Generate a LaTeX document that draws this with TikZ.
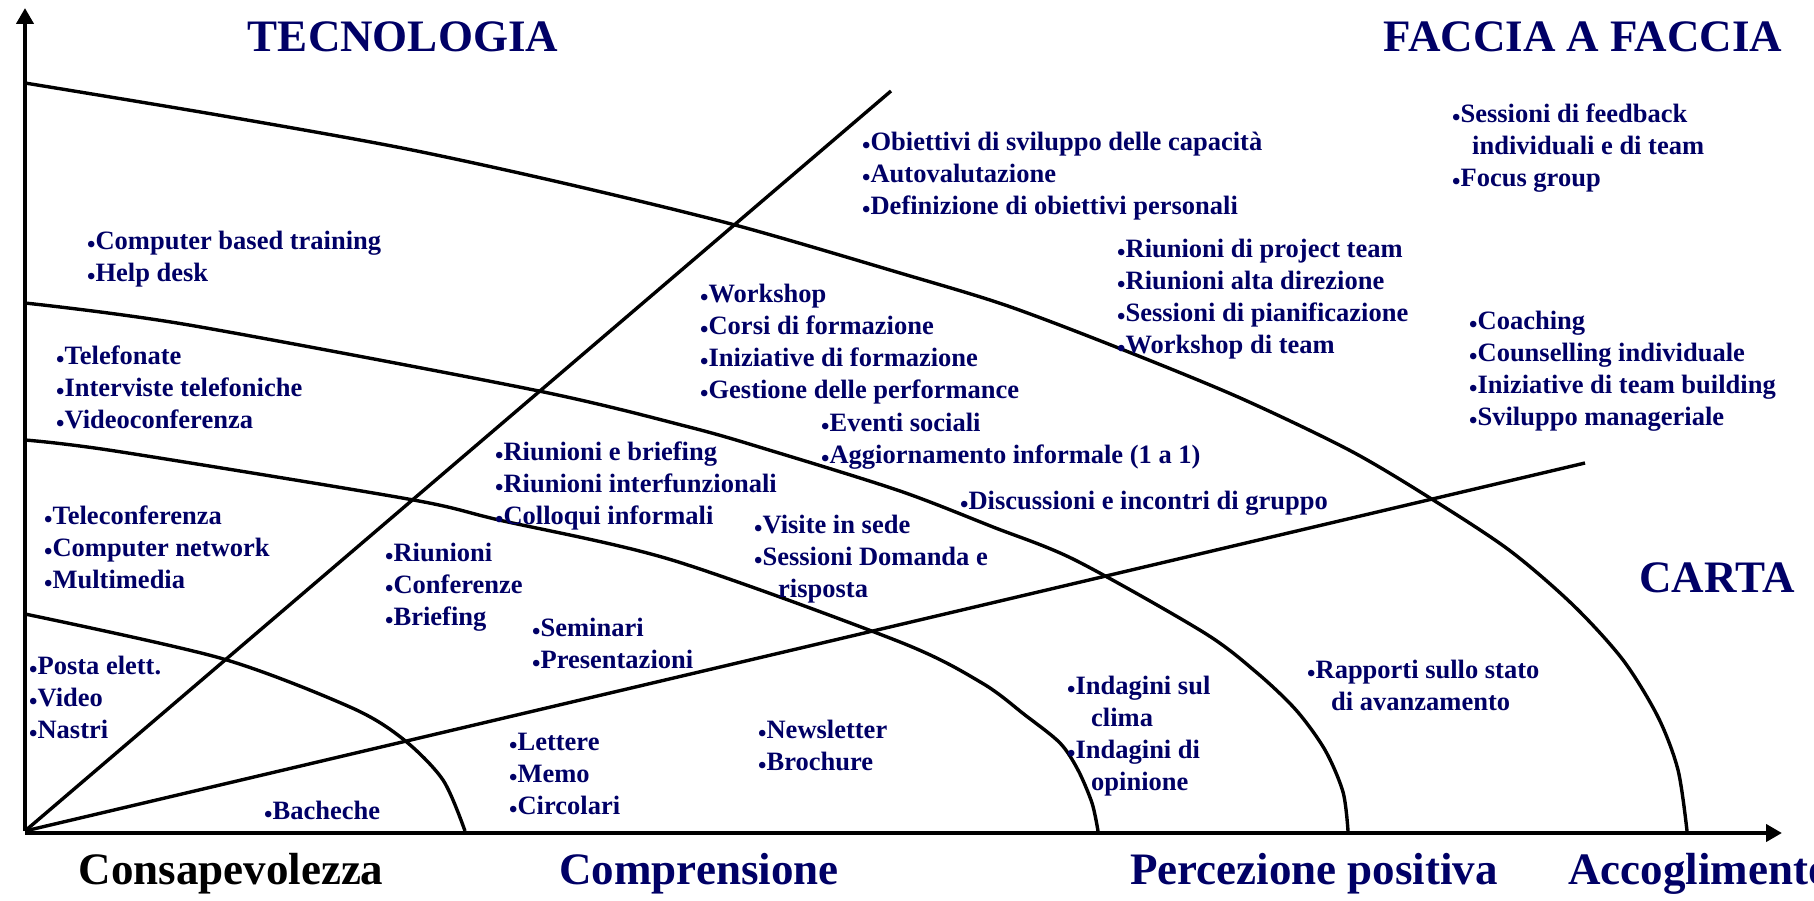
\documentclass[tikz,border=0pt]{standalone}
\usepackage{fontspec}
\setmainfont{Liberation Serif}
\usepackage{tikz}
\usetikzlibrary{arrows.meta,positioning}
\definecolor{txtblue}{HTML}{000066}
\newcommand\bul{\raisebox{-2.5pt}{\fontsize{24}{24}\selectfont •}}
\newcommand\ind{\hspace*{24pt}}

\begin{document}
\begin{tikzpicture}[x=1pt,y=-1pt,
  lbl/.style={font=\fontsize{26.5}{32}\selectfont\bfseries,text=txtblue,align=left,anchor=north west,inner sep=0pt,yshift=-5pt,execute at begin node={\strut}},
  big/.style={font=\fontsize{45}{50}\selectfont\bfseries,text=txtblue,inner sep=0pt},
  band/.style={line width=3.4pt},
  axis/.style={line width=4.4pt,-{Triangle[length=16pt,width=17pt]}}]
\useasboundingbox[fill=white] (0,0) rectangle (1814,901);
\coordinate (o) at (25,831);
\coordinate (ytip) at (25,8);
\coordinate (xstart) at (25,833);
\coordinate (xtip) at (1782,833);
\coordinate (steep) at (891,91);
\coordinate (flat) at (1585,463);
\draw[band] (o)--(steep);
\draw[band] (o)--(flat);
\draw[band] plot[smooth,tension=0.5] coordinates {(25,614) (220,658) (350,707) (403,739) (443,780) (465,831)};
\draw[band] plot[smooth,tension=0.5] coordinates {(25,440) (115,451) (408,499) (499,520) (672,560) (900,642) (982,683) (1025,715) (1060,743) (1078,770) (1092,803) (1098,831)};
\draw[band] plot[smooth,tension=0.5] coordinates {(25,303) (189,325) (534,390) (689,427) (769,450) (900,491) (993,527) (1075,560) (1203,632) (1256,672) (1296,710) (1325,750) (1343,792) (1348,831)};
\draw[band] plot[smooth,tension=0.5] coordinates {(25,83) (218,115) (402,148) (563,183) (735,225) (900,273) (1005,305) (1116,347) (1238,397) (1349,450) (1430,498) (1509,550) (1573,605) (1623,660) (1658,717) (1678,770) (1687,831)};
\draw[axis] (o)--(ytip);
\draw[axis] (xstart)--(xtip);

\node[big] (tecno) at (403,37) {TECNOLOGIA};
\node[big] (faccia) at (1583,37) {FACCIA A FACCIA};
\node[big] (carta) at (1717,578) {CARTA};
\node[big,text=black,anchor=base] (consap) at (231,884) {Consapevolezza};
\node[big,anchor=base] (compr) at (699,884) {Comprensione};
\node[big,anchor=base] (percez) at (1314,884) {Percezione positiva};
\node[big,anchor=base west] (accogl) at (1568,884) {Accoglimento};

\node[lbl] (cbt) at (87,226) {\bul Computer based training\\\bul Help desk};
\node[lbl] (telef) at (56,341) {\bul Telefonate\\\bul Interviste telefoniche\\\bul Videoconferenza};
\node[lbl] (telecon) at (44,501) {\bul Teleconferenza\\\bul Computer network\\\bul Multimedia};
\node[lbl] (posta) at (29,651) {\bul Posta elett.\\\bul Video\\\bul Nastri};
\node[lbl] (bacheche) at (264,792) {\bul Bacheche};
\node[lbl] (riunioni) at (385,538) {\bul Riunioni\\\bul Conferenze\\\bul Briefing};
\node[lbl] (seminari) at (532,613) {\bul Seminari\\\bul Presentazioni};
\node[lbl] (lettere) at (509,728) {\bul Lettere\\\bul Memo\\\bul Circolari};
\node[lbl] (newsl) at (758,715) {\bul Newsletter\\\bul Brochure};
\node[lbl] (briefing) at (495,437) {\bul Riunioni e briefing\\\bul Riunioni interfunzionali\\\bul Colloqui informali};
\node[lbl] (visite) at (754,510) {\bul Visite in sede\\\bul Sessioni Domanda e\\\ind risposta};
\node[lbl] (worksh) at (700,279) {\bul Workshop\\\bul Corsi di formazione\\\bul Iniziative di formazione\\\bul Gestione delle performance};
\node[lbl] (eventi) at (821,408) {\bul Eventi sociali\\\bul Aggiornamento informale (1 a 1)};
\node[lbl] (discuss) at (960,482) {\bul Discussioni e incontri di gruppo};
\node[lbl] (obiett) at (862,127) {\bul Obiettivi di sviluppo delle capacità\\\bul Autovalutazione\\\bul Definizione di obiettivi personali};
\node[lbl] (project) at (1117,234) {\bul Riunioni di project team\\\bul Riunioni alta direzione\\\bul Sessioni di pianificazione\\\bul Workshop di team};
\node[lbl] (feedback) at (1452,99) {\bul Sessioni di feedback\\\hspace*{20pt}individuali e di team\\\bul Focus group};
\node[lbl] (coaching) at (1469,306) {\bul Coaching\\\bul Counselling individuale\\\bul Iniziative di team building\\\bul Sviluppo manageriale};
\node[lbl] (indagini) at (1067,671) {\bul Indagini sul\\\ind clima\\\bul Indagini di\\\ind opinione};
\node[lbl] (rapporti) at (1307,655) {\bul Rapporti sullo stato\\\ind di avanzamento};
\end{tikzpicture}
\end{document}
